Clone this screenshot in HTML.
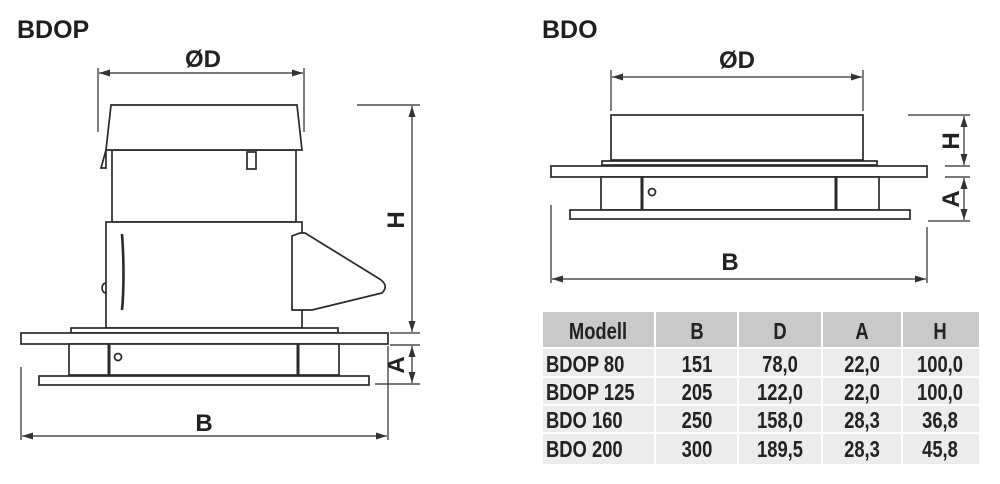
<!DOCTYPE html>
<html><head><meta charset="utf-8"><style>
html,body{margin:0;padding:0;background:#fff;width:1000px;height:484px;overflow:hidden}
svg{display:block}
text{font-family:"Liberation Sans",sans-serif;fill:#222}
</style></head><body>
<svg width="1000" height="484" viewBox="0 0 1000 484" xmlns="http://www.w3.org/2000/svg">
<defs>
<marker id="ar" markerWidth="11" markerHeight="7" refX="11" refY="3.5" orient="auto-start-reverse" markerUnits="userSpaceOnUse">
<path d="M0,0 L11,3.5 L0,7 Z" fill="#333"/></marker>
</defs>
<text x="17" y="38" font-size="25" font-weight="bold" style="fill:#1e1e1e">BDOP</text>
<text x="542" y="38" font-size="25" font-weight="bold" style="fill:#1e1e1e">BDO</text>

<!-- BDOP drawing -->
<g stroke="#2a2a2a" stroke-width="1.7" fill="#fff">
<line x1="98" y1="68" x2="98" y2="132" stroke-width="1.2"/>
<line x1="304" y1="68" x2="304" y2="132" stroke-width="1.2"/>
<line x1="99" y1="73" x2="303" y2="73" stroke-width="1.2" marker-start="url(#ar)" marker-end="url(#ar)"/>
<rect x="112" y="150" width="184" height="72"/>
<path d="M106,150 L101,168 L106,168 Z"/>
<rect x="247" y="152" width="9" height="17"/>
<path d="M111,105 L297,105 L302,150 L106,150 Z"/>
<rect x="106" y="222" width="196" height="106"/>
<path d="M122,234 C124,260 124,290 122,310" stroke-width="2.6" fill="none"/>
<path d="M106,283 A4,5 0 0 0 106,293" fill="none"/>
<path d="M292,236 L300,233 L305,233 L378,278 Q390,285 382,293 L312,310 L292,310 Z"/>
<rect x="71" y="328" width="267" height="5"/>
<rect x="21" y="333" width="367" height="11"/>
<rect x="69" y="344" width="270" height="31"/>
<line x1="109" y1="344" x2="109" y2="375" stroke-width="3"/>
<line x1="298" y1="344" x2="298" y2="375" stroke-width="3"/>
<circle cx="118" cy="357" r="3.5"/>
<rect x="39" y="376" width="330" height="9"/>
<line x1="357" y1="105" x2="420" y2="105" stroke-width="1.2"/>
<line x1="412" y1="106" x2="412" y2="332" stroke-width="1.2" marker-start="url(#ar)" marker-end="url(#ar)"/>
<line x1="390" y1="333" x2="420" y2="333" stroke-width="1.2"/>
<line x1="390" y1="345" x2="420" y2="345" stroke-width="1.2"/>
<line x1="375" y1="384" x2="420" y2="384" stroke-width="1.2"/>
<line x1="412" y1="346" x2="412" y2="383" stroke-width="1.2" marker-start="url(#ar)" marker-end="url(#ar)"/>
<line x1="21" y1="367" x2="21" y2="440" stroke-width="1.2"/>
<line x1="388" y1="346" x2="388" y2="440" stroke-width="1.2"/>
<line x1="22" y1="436" x2="387" y2="436" stroke-width="1.2" marker-start="url(#ar)" marker-end="url(#ar)"/>
</g>
<g font-size="24" font-weight="bold" text-anchor="middle">
<text x="203" y="67">ØD</text>
<text x="204" y="431">B</text>
<text transform="translate(404,220) rotate(-90)">H</text>
<text transform="translate(404,365) rotate(-90)">A</text>
</g>

<!-- BDO drawing -->
<g stroke="#2a2a2a" stroke-width="1.7" fill="#fff">
<line x1="611" y1="70" x2="611" y2="111" stroke-width="1.2"/>
<line x1="863" y1="70" x2="863" y2="111" stroke-width="1.2"/>
<line x1="612" y1="77" x2="862" y2="77" stroke-width="1.2" marker-start="url(#ar)" marker-end="url(#ar)"/>
<rect x="611" y="115" width="252" height="45"/>
<rect x="602" y="161" width="275" height="4"/>
<rect x="551" y="166" width="376" height="11"/>
<rect x="601" y="177" width="278" height="33"/>
<line x1="642" y1="177" x2="642" y2="210" stroke-width="3"/>
<line x1="836" y1="177" x2="836" y2="210" stroke-width="3"/>
<circle cx="652" cy="192" r="3.5"/>
<rect x="570" y="210" width="340" height="9"/>
<line x1="908" y1="115" x2="970" y2="115" stroke-width="1.2"/>
<line x1="945" y1="166" x2="970" y2="166" stroke-width="1.2"/>
<line x1="964" y1="116" x2="964" y2="165" stroke-width="1.2" marker-start="url(#ar)" marker-end="url(#ar)"/>
<line x1="945" y1="177" x2="970" y2="177" stroke-width="1.2"/>
<line x1="928" y1="221" x2="970" y2="221" stroke-width="1.2"/>
<line x1="964" y1="178" x2="964" y2="220" stroke-width="1.2" marker-start="url(#ar)" marker-end="url(#ar)"/>
<line x1="551" y1="205" x2="551" y2="283" stroke-width="1.2"/>
<line x1="927" y1="227" x2="927" y2="283" stroke-width="1.2"/>
<line x1="552" y1="279" x2="926" y2="279" stroke-width="1.2" marker-start="url(#ar)" marker-end="url(#ar)"/>
</g>
<g font-size="24" font-weight="bold" text-anchor="middle">
<text x="737" y="68">ØD</text>
<text x="730" y="270">B</text>
<text transform="translate(959,141) rotate(-90)">H</text>
<text transform="translate(959,199) rotate(-90)">A</text>
</g>

<!-- Table -->
<rect x="543" y="312" width="436" height="36" fill="#c9c9c9"/>
<rect x="543" y="348" width="436" height="116" fill="#ececec"/>
<g stroke="#fff" stroke-width="2">
<line x1="655" y1="312" x2="655" y2="464"/>
<line x1="738" y1="312" x2="738" y2="464"/>
<line x1="822" y1="312" x2="822" y2="464"/>
<line x1="902" y1="312" x2="902" y2="464"/>
<line x1="543" y1="348" x2="979" y2="348"/>
<line x1="543" y1="377" x2="979" y2="377"/>
<line x1="543" y1="405" x2="979" y2="405"/>
<line x1="543" y1="433" x2="979" y2="433"/>
</g>
<g font-size="23" font-weight="bold" text-anchor="middle" style="fill:#2a2a2a">
<g transform="translate(598,339) scale(0.8,1)"><text>Modell</text></g>
<g transform="translate(697,339) scale(0.8,1)"><text>B</text></g>
<g transform="translate(780,339) scale(0.8,1)"><text>D</text></g>
<g transform="translate(862,339) scale(0.8,1)"><text>A</text></g>
<g transform="translate(940,339) scale(0.8,1)"><text>H</text></g>

<g transform="translate(546,372) scale(0.8,1)"><text text-anchor="start">BDOP 80</text></g>
<g transform="translate(697,372) scale(0.8,1)"><text>151</text></g>
<g transform="translate(780,372) scale(0.8,1)"><text>78,0</text></g>
<g transform="translate(862,372) scale(0.8,1)"><text>22,0</text></g>
<g transform="translate(940,372) scale(0.8,1)"><text>100,0</text></g>

<g transform="translate(546,400) scale(0.8,1)"><text text-anchor="start">BDOP 125</text></g>
<g transform="translate(697,400) scale(0.8,1)"><text>205</text></g>
<g transform="translate(780,400) scale(0.8,1)"><text>122,0</text></g>
<g transform="translate(862,400) scale(0.8,1)"><text>22,0</text></g>
<g transform="translate(940,400) scale(0.8,1)"><text>100,0</text></g>

<g transform="translate(546,428) scale(0.8,1)"><text text-anchor="start">BDO 160</text></g>
<g transform="translate(697,428) scale(0.8,1)"><text>250</text></g>
<g transform="translate(780,428) scale(0.8,1)"><text>158,0</text></g>
<g transform="translate(862,428) scale(0.8,1)"><text>28,3</text></g>
<g transform="translate(940,428) scale(0.8,1)"><text>36,8</text></g>

<g transform="translate(546,457) scale(0.8,1)"><text text-anchor="start">BDO 200</text></g>
<g transform="translate(697,457) scale(0.8,1)"><text>300</text></g>
<g transform="translate(780,457) scale(0.8,1)"><text>189,5</text></g>
<g transform="translate(862,457) scale(0.8,1)"><text>28,3</text></g>
<g transform="translate(940,457) scale(0.8,1)"><text>45,8</text></g>
</g>
</svg>
</body></html>
